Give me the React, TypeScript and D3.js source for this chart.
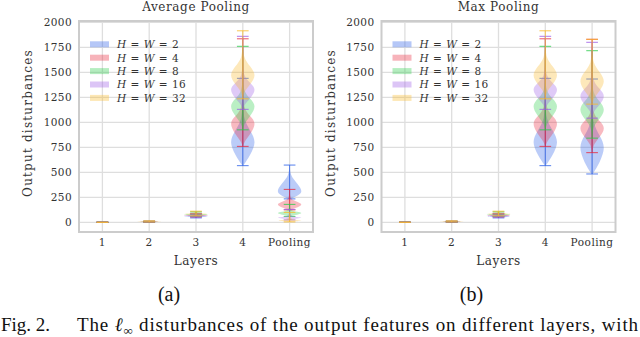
import React from "react";
import * as d3 from "d3";

const layers = ["1", "2", "3", "4", "Pooling"];
const sizes = [2, 4, 8, 16, 32];
const colors = ["#2a5fe8", "#e8263a", "#28cc48", "#9b5ae6", "#f9b928"];
const yTicks = [0, 250, 500, 750, 1000, 1250, 1500, 1750, 2000];

// rows = layers, columns = H=W sizes (2, 4, 8, 16, 32)
const avgMin = [[0, 0, 0, 0, 0], [2, 2, 3, 3, 4], [45, 55, 60, 55, 65], [567, 760, 925, 1130, 1235], [235, 125, 60, 25, 5]];
const avgLow = [[0.4, 0.4, 0.4, 0.4, 0.4], [3, 3, 4, 5, 6], [48, 58, 64, 57, 70], [585, 800, 980, 1170, 1300], [240, 130, 65, 30, 7]];
const avgPeak = [[1, 1, 1, 1, 1], [5, 6, 7, 8, 10], [58, 68, 78, 66, 84], [800, 985, 1160, 1325, 1470], [307, 180, 95, 48, 18]];
const avgHigh = [[1.6, 1.6, 1.6, 1.6, 1.6], [7, 8, 10, 11, 13], [72, 82, 95, 78, 100], [1040, 1150, 1320, 1470, 1650], [470, 240, 125, 70, 40]];
const avgMax = [[2.5, 2.5, 2.5, 2.5, 2.5], [9, 10, 12, 14, 16], [80, 90, 105, 85, 112], [1440, 1835, 1760, 1860, 1915], [573, 330, 180, 130, 100]];

const maxMin = [[0, 0, 0, 0, 0], [2, 2, 3, 3, 4], [45, 55, 60, 55, 65], [567, 760, 925, 1130, 1235], [484, 697, 842, 1042, 1182]];
const maxLow = [[0.4, 0.4, 0.4, 0.4, 0.4], [3, 3, 4, 5, 6], [48, 58, 64, 57, 70], [585, 800, 980, 1170, 1300], [500, 770, 950, 1100, 1230]];
const maxPeak = [[1, 1, 1, 1, 1], [5, 6, 7, 8, 10], [58, 68, 78, 66, 84], [800, 985, 1160, 1325, 1470], [745, 940, 1125, 1260, 1410]];
const maxHigh = [[1.6, 1.6, 1.6, 1.6, 1.6], [7, 8, 10, 11, 13], [72, 82, 95, 78, 100], [1040, 1150, 1320, 1470, 1650], [1000, 1100, 1300, 1420, 1600]];
const maxMax = [[2.5, 2.5, 2.5, 2.5, 2.5], [9, 10, 12, 14, 16], [80, 90, 105, 85, 112], [1440, 1835, 1760, 1860, 1915], [1433, 1830, 1716, 1800, 1830]];

// relative half-widths at min, low, peak, high, max
const profile = [0, 0.15, 1, 0.15, 0];

const top = 21;
const bottom = 232;
const font = "DejaVu Serif";

const Panel = ({ left, right, title, mins, lows, peaks, highs, maxs }) => {
  const x = d3.scaleLinear().domain([0.5, 5.5]).range([left, right]);
  const y = d3.scaleLinear().domain([-96, 2013]).range([bottom, top]);
  const half = x(1.25) - x(1);
  const cap = x(1.125) - x(1);

  const violins = [];
  sizes.forEach((s, si) => {
    layers.forEach((l, li) => {
      const cx = x(li + 1);
      const knots = [mins[li][si], lows[li][si], peaks[li][si], highs[li][si], maxs[li][si]].map((v, k) => ({ v, w: profile[k] }));
      const area = d3
        .area()
        .y((d) => y(d.v))
        .x0((d) => cx - d.w * half)
        .x1((d) => cx + d.w * half)
        .curve(d3.curveCatmullRom.alpha(0.5));
      const c = colors[si];
      const y0 = y(mins[li][si]);
      const y1 = y(maxs[li][si]);
      violins.push(
        <g key={`${si}-${li}`}>
          <path d={area(knots)} fill={c} fillOpacity={0.32} stroke="none" />
          <line x1={cx} x2={cx} y1={y0} y2={y1} stroke={c} strokeOpacity={0.75} strokeWidth={1} />
          <line x1={cx - cap} x2={cx + cap} y1={y0} y2={y0} stroke={c} strokeOpacity={0.8} strokeWidth={1} />
          <line x1={cx - cap} x2={cx + cap} y1={y1} y2={y1} stroke={c} strokeOpacity={0.8} strokeWidth={1} />
        </g>
      );
    });
  });

  return (
    <g>
      <rect x={left} y={top} width={right - left} height={bottom - top} fill="white" />
      {yTicks.map((t) => (
        <line key={"gy" + t} x1={left} x2={right} y1={y(t)} y2={y(t)} stroke="#dedede" strokeWidth={1.3} />
      ))}
      {layers.map((l, i) => (
        <line key={"gx" + l} x1={x(i + 1)} x2={x(i + 1)} y1={top} y2={bottom} stroke="#dedede" strokeWidth={1.3} />
      ))}
      {violins}
      <rect x={left} y={top} width={right - left} height={bottom - top} fill="none" stroke="#cccccc" strokeWidth={2} />
      {yTicks.map((t) => (
        <text key={"ty" + t} x={left - 7} y={y(t) + 3.8} textAnchor="end" fontSize={10.5} letterSpacing={0.4} fill="#333" fontFamily={font}>
          {t}
        </text>
      ))}
      {layers.map((l, i) => (
        <text key={"tx" + l} x={x(i + 1)} y={246} textAnchor="middle" fontSize={10.5} letterSpacing={0.5} fill="#333" fontFamily={font}>
          {l}
        </text>
      ))}
      <text x={(left + right) / 2} y={11} textAnchor="middle" fontSize={12} letterSpacing={0.6} fill="#333" fontFamily={font}>
        {title}
      </text>
      <text x={(left + right) / 2} y={265} textAnchor="middle" fontSize={12} letterSpacing={0.6} fill="#333" fontFamily={font}>
        Layers
      </text>
      <text
        transform={`translate(${left - 47},123) rotate(-90)`}
        textAnchor="middle"
        fontSize={12}
        letterSpacing={1.2}
        fill="#333"
        fontFamily={font}
      >
        Output disturbances
      </text>
      {sizes.map((s, i) => {
        const ly = 44.3 + i * 13.4;
        return (
          <g key={"lg" + s}>
            <rect x={left + 11} y={ly - 3} width={19} height={6} fill={colors[i]} fillOpacity={0.35} />
            <text x={left + 38} y={ly + 3.8} fontSize={10.5} letterSpacing={0.5} fill="#333" fontFamily={font}>
              <tspan fontStyle="italic">H</tspan> = <tspan fontStyle="italic">W</tspan> = {s}
            </text>
          </g>
        );
      })}
    </g>
  );
};

export default function App() {
  return (
    <svg width={640} height={337} style={{ position: "absolute", left: 0, top: 0, background: "white" }}>
      <rect width={640} height={337} fill="white" />
      <Panel left={79} right={313} title="Average Pooling" mins={avgMin} lows={avgLow} peaks={avgPeak} highs={avgHigh} maxs={avgMax} />
      <Panel left={381.5} right={615.5} title="Max Pooling" mins={maxMin} lows={maxLow} peaks={maxPeak} highs={maxHigh} maxs={maxMax} />
      <text x={169} y={301} textAnchor="middle" fontSize={20} fontFamily="Liberation Serif" fill="#111">
        (a)
      </text>
      <text x={471.5} y={301} textAnchor="middle" fontSize={20} fontFamily="Liberation Serif" fill="#111">
        (b)
      </text>
      <text x={1} y={331} fontSize={19} fontFamily="Liberation Serif" fill="#111">
        Fig. 2.
      </text>
      <text x={77} y={331} fontSize={19} fontFamily="Liberation Serif" fill="#111" textLength={561} lengthAdjust="spacing">
        The <tspan fontStyle="italic">ℓ</tspan>
        <tspan fontSize={13} dy={4}>∞</tspan>
        <tspan dy={-4}> disturbances of the output features on different layers, with</tspan>
      </text>
    </svg>
  );
}
